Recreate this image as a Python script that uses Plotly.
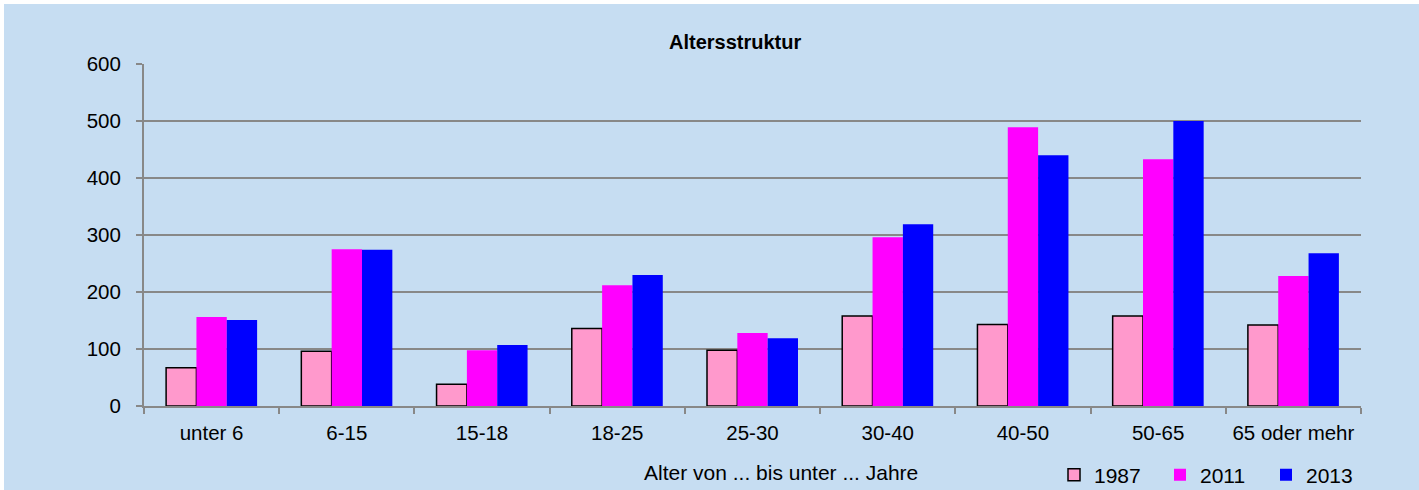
import plotly.graph_objects as go

categories = ["unter 6", "6-15", "15-18", "18-25", "25-30", "30-40", "40-50", "50-65", "65 oder mehr"]
v1987 = [67, 96, 38, 136, 98, 158, 143, 158, 142]
v2011 = [156, 275, 98, 212, 128, 296, 489, 433, 228]
v2013 = [151, 274, 107, 230, 119, 319, 440, 500, 268]
y_ticks = [0, 100, 200, 300, 400, 500, 600]

W, H = 1419, 490
ML, MT = 144, 64
MR = W - 1361
MB = H - 406
pw, ph = W - ML - MR, H - MT - MB
BG = "#C6DDF2"
FONT = "Liberation Sans, Arial"

fig = go.Figure()
fig.add_trace(go.Bar(name="1987", x=categories, y=v1987, marker=dict(color="#FF99CC", line=dict(color="black", width=1.5))))
fig.add_trace(go.Bar(name="2011", x=categories, y=v2011, marker=dict(color="#FF00FF", line=dict(width=0))))
fig.add_trace(go.Bar(name="2013", x=categories, y=v2013, marker=dict(color="#0000FF", line=dict(width=0))))

def px_x(p):
    return (p - ML) / pw

def px_y(p):
    return (H - MB - p) / ph

fig.add_shape(type="rect", xref="paper", yref="paper", layer="below",
              x0=px_x(4), x1=px_x(1430), y0=px_y(4), y1=px_y(500),
              fillcolor=BG, line=dict(width=0))

fig.add_annotation(text="<b>Altersstruktur</b>", xref="paper", yref="paper",
                   x=px_x(735), y=px_y(42), showarrow=False, xanchor="center", yanchor="middle",
                   font=dict(family=FONT, size=20, color="black"))
fig.add_annotation(text="Alter von ... bis unter ... Jahre", xref="paper", yref="paper",
                   x=px_x(781), y=px_y(472), showarrow=False, xanchor="center", yanchor="middle",
                   font=dict(family=FONT, size=21, color="black"))

fig.update_layout(
    width=W, height=H,
    margin=dict(l=ML, r=MR, t=MT, b=MB, autoexpand=False),
    paper_bgcolor="white",
    plot_bgcolor="white",
    barmode="group", bargap=0.327, bargroupgap=0,
    font=dict(family=FONT, size=20.5, color="black"),
    showlegend=True,
    legend=dict(orientation="h", xref="paper", yref="paper",
                x=px_x(1054), y=px_y(475), xanchor="left", yanchor="middle",
                bgcolor="rgba(0,0,0,0)",
                font=dict(family=FONT, size=21, color="black"),
                entrywidth=61, entrywidthmode="pixels", itemwidth=30,
                traceorder="normal"),
)
fig.update_xaxes(type="category", showline=True, linecolor="#888888", linewidth=2,
                 ticks="outside", tickson="boundaries", ticklen=6, tickcolor="#888888", tickwidth=2,
                 showgrid=False, tickfont=dict(size=20.5), ticklabelstandoff=7, automargin=False)
fig.update_yaxes(range=[0, 600], tickvals=y_ticks, showline=True, linecolor="#888888", linewidth=2,
                 ticks="outside", ticklen=6, tickcolor="#888888", tickwidth=2,
                 showgrid=True, gridcolor="#888888", gridwidth=2, zeroline=False,
                 tickfont=dict(size=20.5), ticklabelstandoff=11, automargin=False)

fig.write_html("out.html", config={"displayModeBar": False},
               post_script="document.body.style.margin='0';document.body.style.overflow='hidden';")
